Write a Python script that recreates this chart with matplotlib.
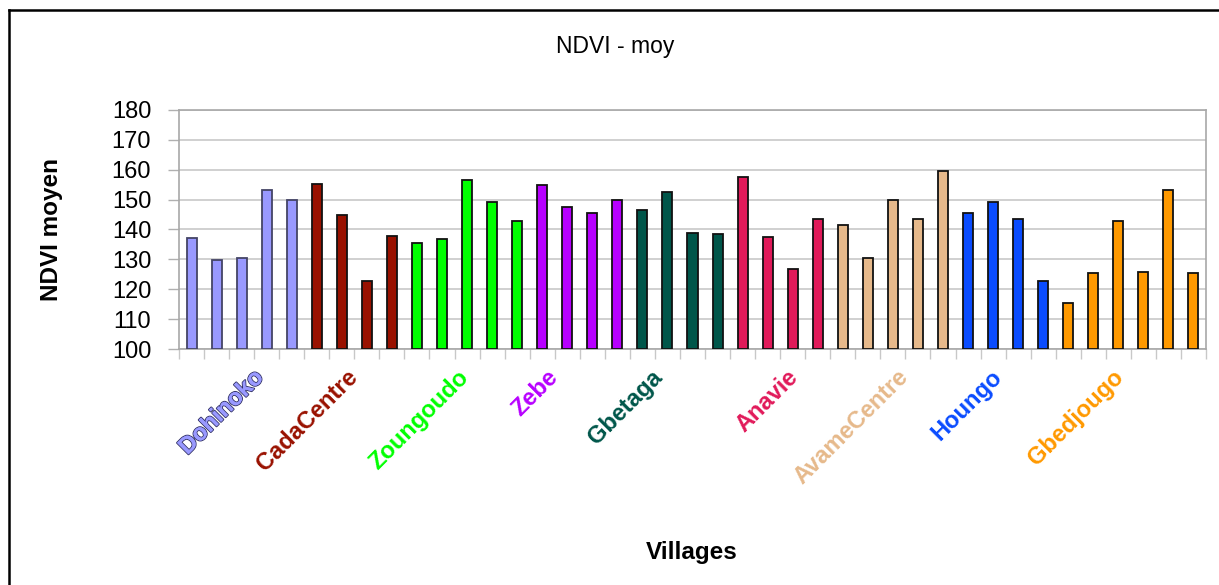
import matplotlib
matplotlib.use("Agg")
import matplotlib.pyplot as plt
import matplotlib.patheffects as pe
from matplotlib.lines import Line2D
import numpy as np

villages = ["Dohinoko", "CadaCentre", "Zoungoudo", "Zebe", "Gbetaga",
            "Anavie", "AvameCentre", "Houngo", "Gbedjougo"]
dohinoko = [137.2, 129.9, 130.3, 153.3, 149.8]
cadacentre = [155.2, 144.8, 122.9, 137.8]
zoungoudo = [135.6, 136.9, 156.5, 149.2, 142.9]
zebe = [154.9, 147.6, 145.4, 149.8]
gbetaga = [146.6, 152.6, 138.9, 138.6]
anavie = [157.6, 137.5, 126.9, 143.5]
avamecentre = [141.5, 130.4, 150.0, 143.5, 159.7]
houngo = [145.4, 149.2, 143.5, 122.9]
gbedjougo = [115.3, 125.4, 142.7, 125.7, 153.1, 125.4]
yticks = [100, 110, 120, 130, 140, 150, 160, 170, 180]

groups = [dohinoko, cadacentre, zoungoudo, zebe, gbetaga,
          anavie, avamecentre, houngo, gbedjougo]
colors = ["#9999ff", "#991100", "#00ff00", "#b700ff", "#00564a",
          "#e11a5a", "#e6b98b", "#0a4cff", "#ff9900"]
edge_colors = ["#444466", "#111111", "#111111", "#111111", "#111111",
               "#111111", "#111111", "#111111", "#111111"]
label_dx = [1.05, 0.32, 0.24, -0.68, -0.52, 0.88, 0.8, 0.04, -0.12]

fig = plt.figure(figsize=(12.19, 5.85), dpi=100)
W, H = 1219, 585
ax = fig.add_axes([179 / W, 1 - 349 / H, (1206 - 179) / W, (349 - 110) / H])

values = [v for g in groups for v in g]
bar_colors = [c for g, c in zip(groups, colors) for _ in g]
bar_edges = [c for g, c in zip(groups, edge_colors) for _ in g]
x = np.arange(len(values))
ax.bar(x, [v - 100 for v in values], bottom=100, width=0.4, color=bar_colors,
       edgecolor=bar_edges, linewidth=1.3, zorder=3)

ax.set_xlim(-0.5, len(values) - 0.5)
ax.set_ylim(100, 180)
ax.set_yticks(yticks)
ax.set_yticklabels([str(t) for t in yticks], fontsize=17, family="Liberation Sans")
ax.yaxis.grid(True, color="#c8c8c8", linewidth=1.2, zorder=0)
for s in ax.spines.values():
    s.set_color("#a8a8a8")
    s.set_linewidth(1.2)
ax.tick_params(axis="y", length=8, color="#b0b0b0", width=1, pad=12)
ax.set_xticks(np.arange(len(values) + 1) - 0.5, minor=True)
ax.set_xticks([])
ax.tick_params(axis="x", which="minor", length=7, color="#c8c8c8", width=1)

ax.set_ylabel("NDVI moyen", fontsize=17.5, fontweight="bold", family="Liberation Sans")
ax.yaxis.set_label_coords(-0.113, 0.5)

# village labels
start = 0
for name, g, c, dx in zip(villages, groups, colors, label_dx):
    center = start + (len(g) - 1) / 2 + dx
    start += len(g)
    t = ax.text(center, -0.07, name, transform=ax.get_xaxis_transform(),
                rotation=45, ha="right", va="top", fontsize=17, fontweight="bold",
                family="Liberation Sans", color=c)
    if name == "Dohinoko":
        t.set_path_effects([pe.withStroke(linewidth=1.4, foreground="#333366"),
                            pe.Normal()])

fig.text(692 / W, 1 - 553 / H, "Villages", ha="center", va="center",
         fontsize=17.5, fontweight="bold", family="Liberation Sans")
fig.text(615 / W, 1 - 46 / H, "NDVI - moy", ha="center", va="center",
         fontsize=16.5, family="Liberation Sans")

fig.add_artist(Line2D([9 / W, 1], [1 - 10 / H, 1 - 10 / H], color="black", linewidth=1.8))
fig.add_artist(Line2D([9 / W, 9 / W], [0, 1 - 10 / H], color="black", linewidth=1.8))

fig.savefig("out.png", dpi=100)
